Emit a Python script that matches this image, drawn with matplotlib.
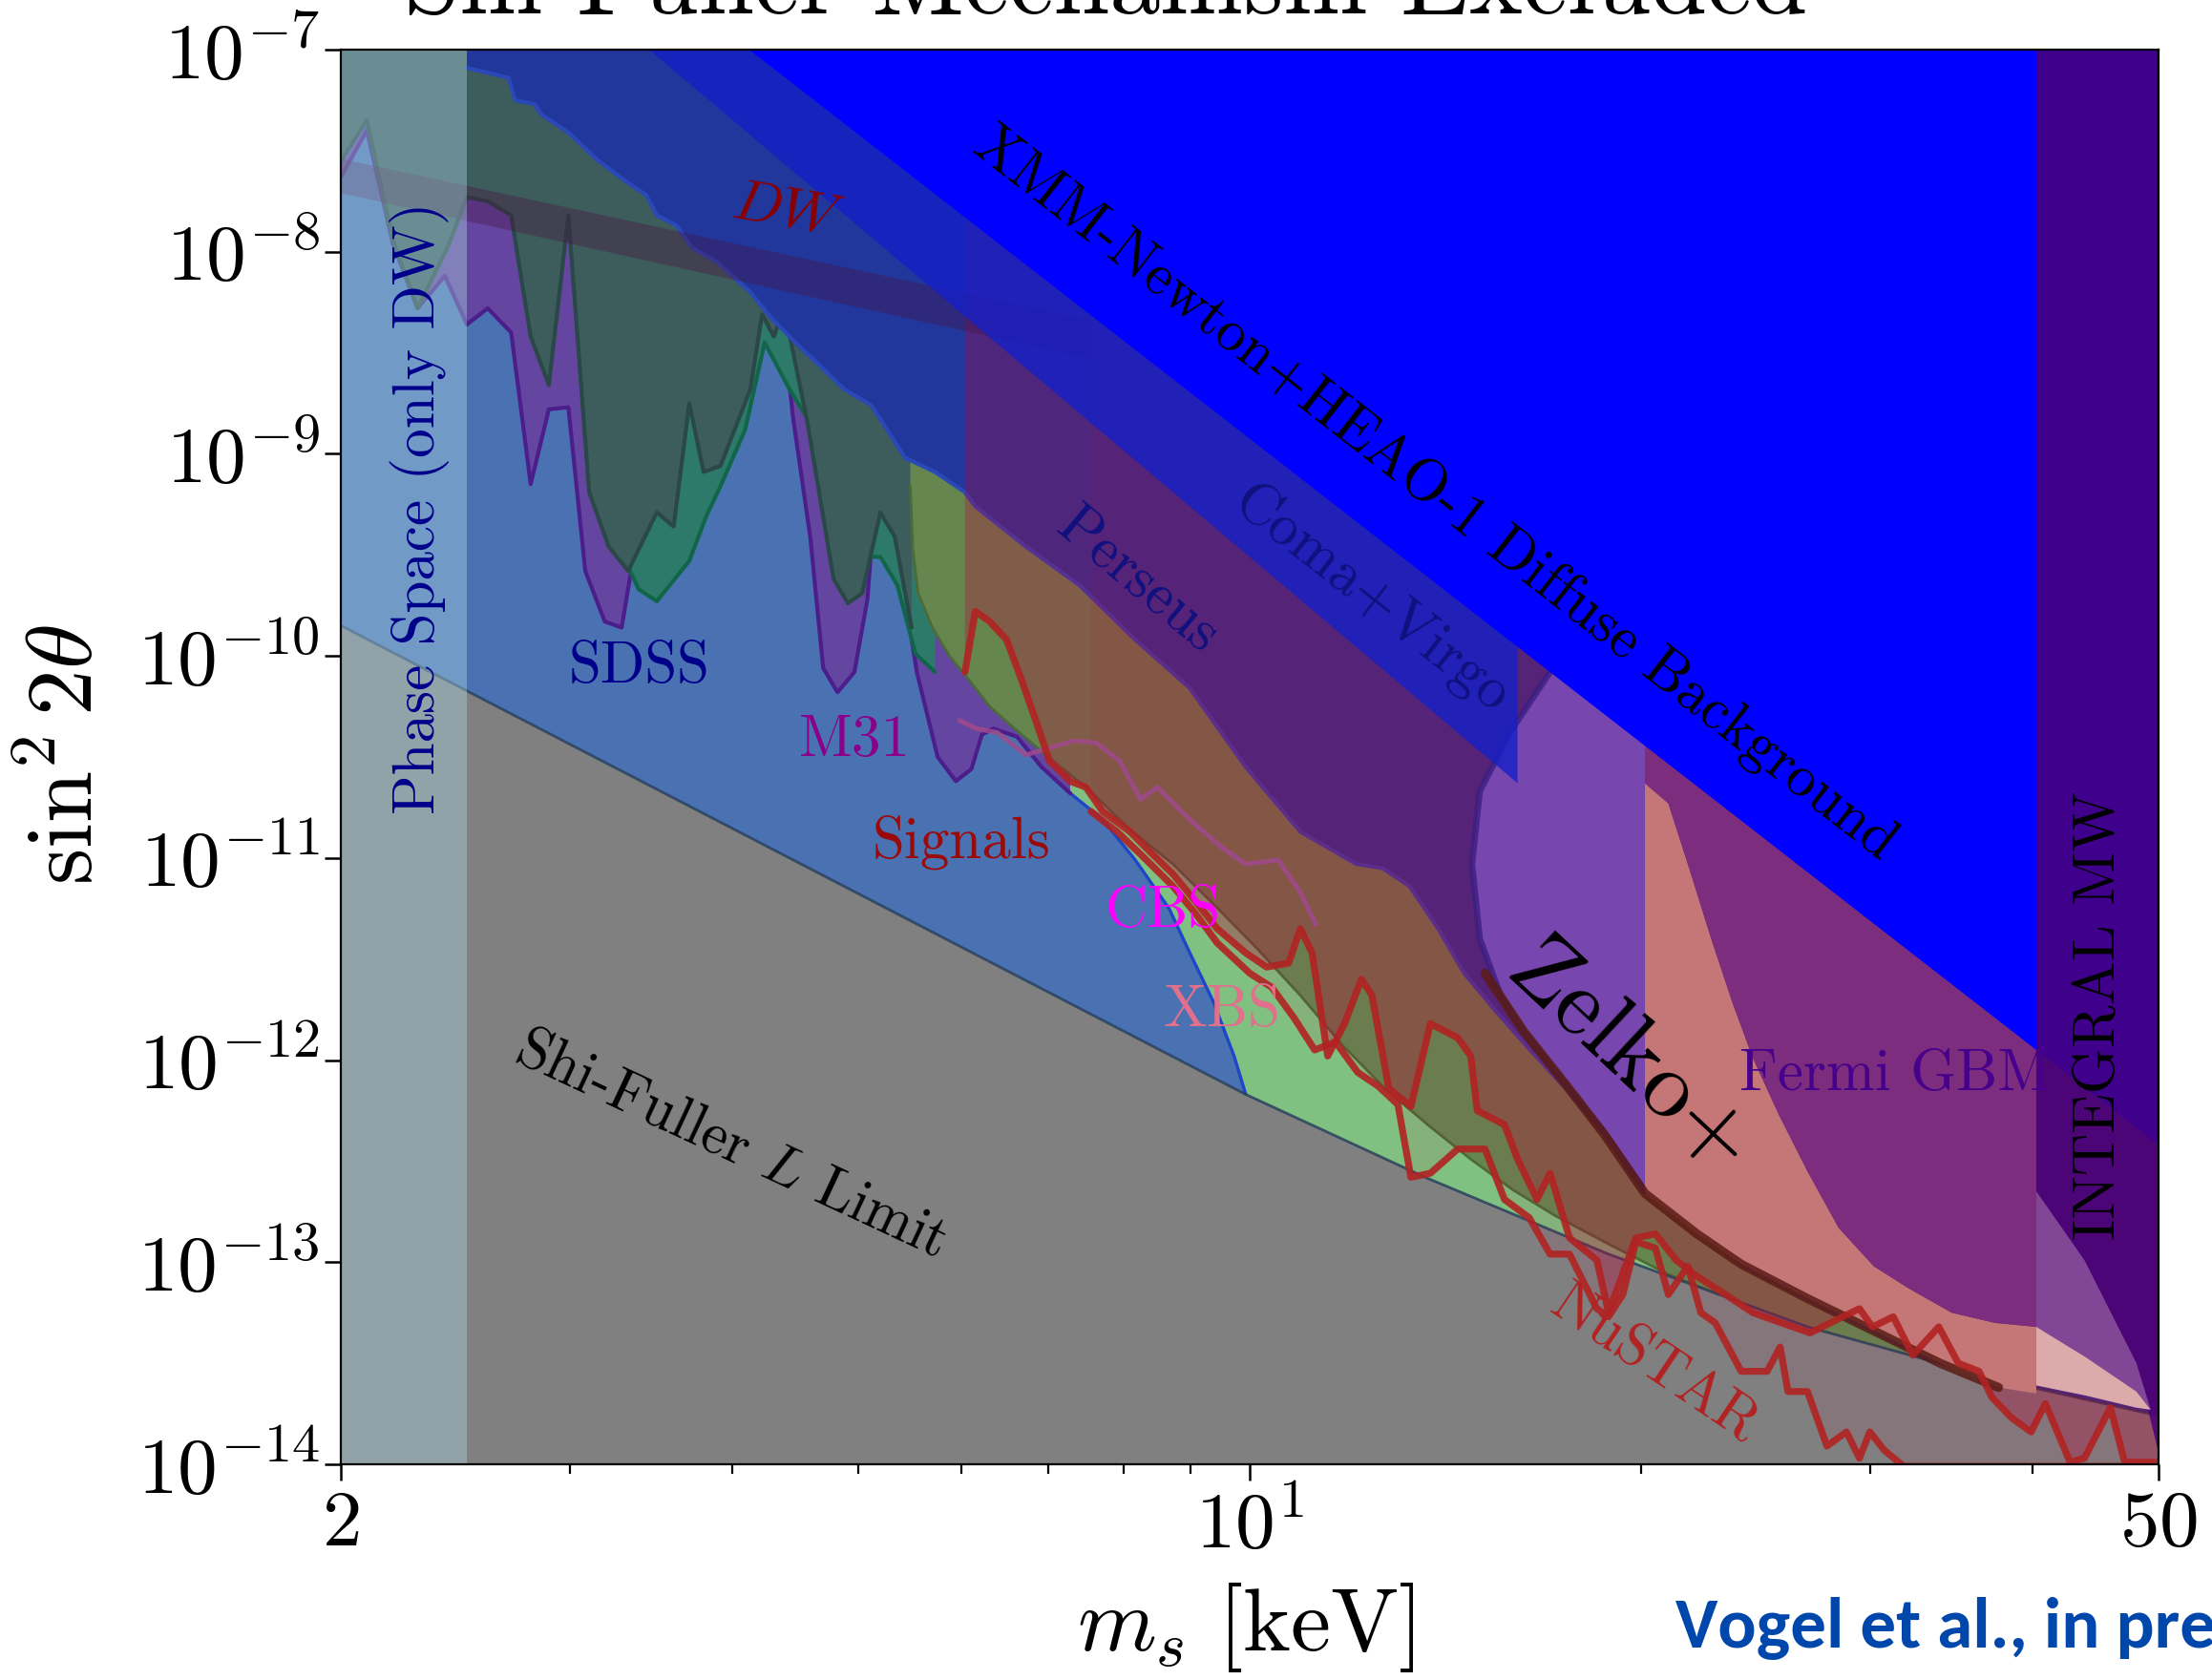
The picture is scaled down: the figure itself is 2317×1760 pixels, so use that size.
import numpy as np
import matplotlib.pyplot as plt
from matplotlib.ticker import FixedLocator, NullLocator, NullFormatter

plt.rcParams['font.family'] = 'serif'
plt.rcParams['font.serif'] = ['cmr10']
plt.rcParams['mathtext.fontset'] = 'cm'
plt.rcParams['axes.formatter.use_mathtext'] = True

# all curves as log10(m_s / keV) and log10(sin^2 2theta)

# Shi-Fuller L limit (grey region lies below it)
sf_lgm = [0.301, 0.997, 1.135, 1.276, 1.429, 1.581, 1.699]
sf_lgs = [-9.85, -12.17, -12.58, -12.96, -13.32, -13.59, -13.76]

# right edge of the blue region (green region to its right)
bc_lgm = [0.997, 0.988, 0.972, 0.954, 0.938, 0.912, 0.887, 0.862, 0.840, 0.820, 0.803, 0.786, 0.776]
bc_lgs = [-12.17, -11.98, -11.71, -11.47, -11.25, -11.01, -10.81, -10.68, -10.55, -10.39, -10.36, -10.38, -10.32]

# M31 curve
m31_lgm = [0.301, 0.321, 0.341, 0.360, 0.381, 0.398, 0.414, 0.432, 0.447, 0.461, 0.476, 0.489, 0.504,
           0.517, 0.525, 0.533, 0.582, 0.625, 0.638, 0.649, 0.662, 0.672, 0.683, 0.696, 0.706, 0.713,
           0.723, 0.735, 0.744, 0.760, 0.774, 0.786, 0.794, 0.803, 0.821, 0.840, 0.862]
m31_lgs = [-7.63, -7.40, -7.96, -8.28, -8.12, -8.36, -8.28, -8.40, -9.15, -8.78, -8.77, -9.58, -9.83,
           -9.86, -9.55, -8.85, -8.43, -8.19, -8.19, -8.83, -9.41, -10.06, -10.18, -10.08, -9.72, -9.13,
           -9.13, -9.71, -10.08, -10.50, -10.62, -10.56, -10.39, -10.36, -10.40, -10.55, -10.68]

# SDSS curve
sdss_lgm = [0.301, 0.321, 0.341, 0.360, 0.383, 0.398, 0.414, 0.432, 0.447, 0.461, 0.476, 0.492, 0.507,
            0.522, 0.530, 0.544, 0.569, 0.582, 0.593, 0.612, 0.627, 0.646, 0.662, 0.680, 0.691, 0.702,
            0.716, 0.729, 0.743, 0.758]
sdss_lgs = [-7.55, -7.35, -7.94, -8.28, -7.98, -7.73, -7.73, -7.80, -8.39, -8.63, -7.80, -9.16, -9.43,
            -9.56, -9.67, -9.73, -9.53, -9.31, -9.16, -8.88, -8.45, -8.68, -8.85, -9.58, -9.55, -9.51,
            -9.51, -9.65, -9.99, -10.08]

# dark upper structure-formation curve
dark_lgm = [0.301, 0.321, 0.341, 0.360, 0.383, 0.398, 0.414, 0.432, 0.447, 0.461, 0.476, 0.492, 0.507,
            0.522, 0.544, 0.557, 0.569, 0.580, 0.593, 0.616, 0.625, 0.634, 0.642, 0.660, 0.680, 0.691,
            0.702, 0.716, 0.727, 0.740]
dark_lgs = [-7.55, -7.35, -7.94, -8.28, -7.98, -7.73, -7.75, -7.82, -8.42, -8.66, -7.82, -9.19, -9.46,
            -9.58, -9.29, -9.36, -8.75, -9.09, -9.06, -8.68, -8.31, -8.42, -8.28, -8.85, -9.62, -9.74,
            -9.69, -9.29, -9.41, -9.86]

# CBS/XBS olive curve
olive_lgm = [0.739, 0.741, 0.745, 0.756, 0.769, 0.783, 0.800, 0.821, 0.849, 0.876, 0.908, 0.941, 0.974,
             1.006, 1.039, 1.072, 1.104, 1.137, 1.170, 1.202, 1.235, 1.279, 1.322, 1.377, 1.431, 1.496,
             1.576, 1.649, 1.699]
olive_lgs = [-9.16, -9.48, -9.69, -9.86, -10.00, -10.11, -10.25, -10.37, -10.52, -10.66, -10.86, -11.03,
             -11.24, -11.45, -11.68, -11.93, -12.14, -12.32, -12.49, -12.64, -12.77, -12.92, -13.06,
             -13.20, -13.34, -13.49, -13.62, -13.71, -13.76]

# Perseus (stepped) curve
perseus_lgm = [0.398, 0.430, 0.435, 0.450, 0.455, 0.476, 0.499, 0.522, 0.536, 0.544, 0.559, 0.571, 0.590,
               0.616, 0.631, 0.649, 0.672, 0.688, 0.709, 0.735, 0.758, 0.781, 0.789, 0.828, 0.869, 0.912,
               0.954, 0.997, 1.039, 1.082, 1.102, 1.123, 1.145, 1.165, 1.187, 1.213, 1.243, 1.279, 1.304,
               1.344, 1.378, 1.429, 1.480, 1.531, 1.576, 1.627, 1.699]
perseus_lgs = [-7.09, -7.14, -7.25, -7.27, -7.32, -7.41, -7.55, -7.66, -7.72, -7.82, -7.87, -7.98, -8.05,
               -8.20, -8.32, -8.44, -8.58, -8.68, -8.76, -9.02, -9.09, -9.19, -9.26, -9.46, -9.65, -9.92,
               -10.16, -10.55, -10.87, -11.03, -11.05, -11.14, -11.35, -11.57, -11.74, -11.93, -12.14,
               -12.41, -12.62, -12.84, -13.01, -13.18, -13.34, -13.51, -13.62, -13.70, -13.76]

coma_lgm = [0.538, 1.206]
coma_lgs = [-7.0, -10.63]
xmm_lgm = [0.615, 1.699]
xmm_lgs = [-7.0, -12.42]

zelko_lgm = [1.231, 1.200, 1.177, 1.171, 1.177, 1.193, 1.211, 1.243, 1.273, 1.304]
zelko_lgs = [-10.08, -10.38, -10.67, -11.03, -11.40, -11.68, -11.86, -12.12, -12.36, -12.65]

fermi_lgm = [1.304, 1.322, 1.338, 1.355, 1.371, 1.387, 1.407, 1.429, 1.453, 1.480, 1.507, 1.540, 1.573, 1.605]
fermi_lgs = [-10.63, -10.73, -11.05, -11.40, -11.71, -11.99, -12.27, -12.55, -12.83, -13.02, -13.13,
             -13.25, -13.30, -13.32]

band_lgm = [1.181, 1.211, 1.243, 1.273, 1.304, 1.344, 1.378, 1.429, 1.480, 1.531, 1.576]
band_lgs = [-11.57, -11.86, -12.12, -12.37, -12.66, -12.86, -13.01, -13.18, -13.34, -13.50, -13.62]

integral_lgm = [1.605, 1.642, 1.682, 1.699]
integral_lgs = [-12.65, -12.99, -13.50, -13.94]
mw_lgm = [1.605, 1.643, 1.682, 1.693]
mw_lgs = [-13.32, -13.47, -13.64, -13.73]
mw_low_lgm = [1.605, 1.643, 1.682]
mw_low_lgs = [-13.61, -13.66, -13.72]

dw_lgm = [0.301, 0.878]
dw_top = [-7.54, -8.34]
dw_bot = [-7.71, -8.53]

nustar1_lgm = [0.781, 0.789, 0.800, 0.813, 0.824, 0.836, 0.846, 0.862, 0.874, 0.887, 0.908, 0.925, 0.941,
               0.959, 0.975, 0.997, 1.013, 1.030, 1.039, 1.048, 1.060, 1.073, 1.086, 1.094, 1.107, 1.124,
               1.139, 1.160, 1.170, 1.175, 1.196, 1.206, 1.221, 1.231, 1.246, 1.267, 1.276, 1.297, 1.312,
               1.328, 1.344, 1.366, 1.387, 1.409, 1.431, 1.453, 1.469, 1.479, 1.495, 1.510, 1.530, 1.545,
               1.561, 1.571, 1.586, 1.601, 1.612, 1.631, 1.642, 1.662, 1.673, 1.699]
nustar1_lgs = [-10.08, -9.78, -9.83, -9.92, -10.11, -10.33, -10.52, -10.62, -10.65, -10.77, -10.87, -10.98,
               -11.08, -11.22, -11.35, -11.47, -11.54, -11.52, -11.35, -11.47, -11.98, -11.82, -11.60,
               -11.68, -12.14, -12.23, -11.82, -11.89, -11.98, -12.25, -12.32, -12.49, -12.69, -12.56,
               -12.88, -12.99, -13.25, -12.88, -12.86, -12.99, -13.07, -13.16, -13.25, -13.30, -13.35,
               -13.28, -13.23, -13.32, -13.27, -13.46, -13.32, -13.50, -13.54, -13.67, -13.77, -13.84,
               -13.70, -13.99, -13.97, -13.72, -13.99, -13.99]

nustar2_lgm = [0.878, 0.898, 0.919, 0.941, 0.959, 0.975, 1.000, 1.017, 1.034, 1.050, 1.066, 1.083, 1.099,
               1.114, 1.124, 1.139, 1.160, 1.181, 1.196, 1.215, 1.231, 1.246, 1.267, 1.276, 1.287, 1.297,
               1.312, 1.322, 1.337, 1.347, 1.358, 1.378, 1.398, 1.408, 1.414, 1.429, 1.444, 1.459, 1.469,
               1.477, 1.488, 1.503, 1.699]
nustar2_lgs = [-10.77, -10.87, -11.00, -11.14, -11.28, -11.42, -11.57, -11.64, -11.79, -11.95, -11.91,
               -12.06, -12.13, -12.22, -12.58, -12.56, -12.44, -12.44, -12.69, -12.78, -12.96, -12.96,
               -13.23, -13.27, -13.16, -12.90, -12.93, -13.16, -13.02, -13.25, -13.30, -13.54, -13.54,
               -13.42, -13.64, -13.64, -13.91, -13.84, -13.97, -13.84, -13.93, -14.01, -14.01]

cbs_line_lgm = [0.777, 0.790, 0.806, 0.828, 0.849, 0.865, 0.882, 0.900, 0.916, 0.929, 0.954, 0.979, 0.997,
                1.022, 1.039, 1.051]
cbs_line_lgs = [-10.32, -10.36, -10.38, -10.49, -10.45, -10.42, -10.43, -10.52, -10.71, -10.65, -10.81,
                -10.95, -11.03, -11.01, -11.17, -11.33]

phase_space_max = 2.5  # keV

TOP = 1.5e-7
BOT = 1e-14


def lg(a):
    return 10.0 ** np.asarray(a, dtype=float)


fig = plt.figure(figsize=(11.585, 8.8), dpi=200)
ax = fig.add_axes([0.1541, 0.1284, 0.8217, 0.8421])
ax.set_xscale('log')
ax.set_yscale('log')


def poly(xs, ys, z, **kw):
    ax.fill(xs, ys, lw=0, zorder=z, **kw)


def above(lgm, lgs, z, **kw):
    m, s = lg(lgm), lg(lgs)
    poly(np.r_[m, m[-1], m[0]], np.r_[s, TOP, TOP], z, **kw)


def edge(lgm, lgs, z, color, lw=1.3, alpha=1.0):
    ax.plot(lg(lgm), lg(lgs), color=color, lw=lw, alpha=alpha, zorder=z,
            solid_joinstyle='round', solid_capstyle='round')


sf_m, sf_s = lg(sf_lgm), lg(sf_lgs)
bc_m, bc_s = lg(bc_lgm), lg(bc_lgs)

# base colours
poly(np.r_[sf_m, 50, 2], np.r_[sf_s, TOP, TOP], 1, color='#4a72b2')
poly(np.r_[bc_m, bc_m[-1], 50, sf_m[:0:-1]], np.r_[bc_s, TOP, TOP, sf_s[:0:-1]], 2, color='#80c080')
edge(bc_lgm, bc_lgs, 2.1, '#1e46c8', 1.2)

# structure formation bounds
above(m31_lgm, m31_lgs, 3, color='#6446a0')
edge(m31_lgm, m31_lgs, 3.1, '#4b1e8c', 1.5)
above(sdss_lgm, sdss_lgs, 4, color='#2d7a6a')
edge(sdss_lgm, sdss_lgs, 4.1, '#11664a', 1.5)
above(dark_lgm, dark_lgs, 5, color='#3d5c5c')
edge(dark_lgm, dark_lgs, 5.1, '#2b4848', 1.5)
above(olive_lgm, olive_lgs, 6, color='#668650')
edge(olive_lgm, olive_lgs, 6.1, '#4d6b36', 1.0)
above(perseus_lgm, perseus_lgs, 7, color='#21379b')
edge(perseus_lgm, perseus_lgs, 7.1, '#2a48b8', 1.5)

# Shi-Fuller limit
poly(np.r_[sf_m, 50, 2], np.r_[sf_s, BOT, BOT], 8, color='#808080')
edge(sf_lgm, sf_lgs, 8.1, '#233c5a', 1.0, alpha=0.8)

# NuSTAR shading
above(nustar1_lgm, nustar1_lgs, 9, color='#b90037', alpha=0.30)
above(nustar2_lgm, nustar2_lgs, 9.1, color='#b90037', alpha=0.07)

# DW band
dm = lg(dw_lgm)
poly(np.r_[dm, dm[::-1]], np.r_[lg(dw_top), lg(dw_bot)[::-1]], 10, color='#4a1040', alpha=0.35)
edge(cbs_line_lgm, cbs_line_lgs, 11, '#a04a8c', 1.8, alpha=0.85)

# Zelko+
above(zelko_lgm, zelko_lgs, 12, color='#7846af')
edge(zelko_lgm, zelko_lgs, 12.1, '#3c1e82', 2.4, alpha=0.8)

# Coma+Virgo
cm_, cs_ = lg(coma_lgm), lg(coma_lgs)
poly([cm_[0], cm_[1], cm_[1], cm_[0]], [cs_[0], cs_[1], TOP, TOP], 13, color='#1420c8', alpha=0.8)

# Fermi GBM + pink region
pm, ps = lg(fermi_lgm), lg(fermi_lgs)
bm, bs = lg(band_lgm), lg(band_lgs)
poly(np.r_[pm, pm[-1], bm[:3:-1]], np.r_[ps, 10 ** -13.65, bs[:3:-1]], 14, color='#c57676')
poly(np.r_[pm[0], pm, pm[-1]], np.r_[TOP, ps, TOP], 15, color='#7d2d7d')
edge(band_lgm, band_lgs, 16, '#5a1c14', 3.4, alpha=0.85)

# XMM-Newton + HEAO-1
xm, xs = lg(xmm_lgm), lg(xmm_lgs)
poly([xm[0], xm[1], xm[1], xm[0]], [xs[0], xs[1], TOP, TOP], 17, color='#0000ff')

# INTEGRAL
above(integral_lgm, integral_lgs, 18, color='#4b0078', alpha=0.85)
im, is_ = lg(integral_lgm), lg(integral_lgs)
wm, ws = lg(mw_lgm), lg(mw_lgs)
lm, ls = lg(mw_low_lgm), lg(mw_low_lgs)
poly(np.r_[im[:3], wm[3], wm[2::-1]], np.r_[is_[:3], ws[3], ws[2::-1]], 18.1, color='#824696')
poly(np.r_[wm, lm[::-1]], np.r_[ws, ls[::-1]], 18.2, color='#dcaaaa')

# NuSTAR lines
edge(nustar1_lgm, nustar1_lgs, 19, '#b22222', 2.6, alpha=0.9)
edge(nustar2_lgm, nustar2_lgs, 19.1, '#b22222', 2.6, alpha=0.9)

# phase space band
ax.axvspan(2, phase_space_max, color='#add8e6', alpha=0.4, lw=0, zorder=20)

ax.set_xlim(2, 50)
ax.set_ylim(1e-14, 1e-7)

ax.xaxis.set_major_locator(FixedLocator([2, 10, 50]))
ax.set_xticklabels(['$2$', '$10^1$', '$50$'])
ax.xaxis.set_minor_locator(FixedLocator([3, 4, 5, 6, 7, 8, 9, 20, 30, 40]))
ax.xaxis.set_minor_formatter(NullFormatter())
ax.yaxis.set_minor_locator(NullLocator())
ax.tick_params(which='major', direction='out', length=6, width=0.9, labelsize=30)
ax.tick_params(which='minor', direction='out', length=3.5, width=0.8)
ax.tick_params(axis='x', pad=4)
ax.tick_params(axis='y', pad=2)
for sp in ax.spines.values():
    sp.set_zorder(50)
    sp.set_linewidth(0.8)

# labels on the plot
tk = dict(ha='center', va='center', rotation_mode='anchor', zorder=60, fontsize=22)
ax.text(2.30, 5.4e-10, 'Phase Space (only DW)', rotation=90, color='#00008b', **tk)
ax.text(3.39, 8.8e-11, 'SDSS', color='#00008b', **tk)
ax.text(4.97, 3.8e-11, 'M31', color='#8b008b', **tk)
ax.text(6.0, 1.2e-11, 'Signals', color='#9b0a0a', **tk)
ax.text(8.58, 5.4e-12, 'CBS', color='#ff00ff', **tk)
ax.text(9.53, 1.74e-12, 'XBS', color='#e0708c', **tk)
ax.text(4.41, 1.57e-8, '$DW$', rotation=-10, color='#8b0000', **tk)
ax.text(13.88, 6.34e-10, 'XMM-Newton+HEAO-1 Diffuse Background', rotation=-38, color='black', **tk)
ax.text(8.2, 2.34e-10, 'Perseus', rotation=-40, color='#10107f', **tk)
ax.text(12.41, 1.9e-10, 'Coma+Virgo', rotation=-38, color='#10107f', **tk)
ax.text(31.35, 8.45e-13, 'Fermi GBM', color='#46008c', **tk)
ax.text(45.1, 1.66e-12, 'INTEGRAL MW', rotation=90, color='black', **tk)
ax.text(3.99, 3.79e-13, 'Shi-Fuller $L$ Limit', rotation=-25, color='black', **tk)
ax.text(20.47, 3.13e-14, 'NuSTAR', rotation=-34, color='#b22222', **tk)
tk['fontsize'] = 36
ax.text(19.58, 9.9e-13, 'Zelko+', rotation=-43, color='black', **tk)

fig.text(0.0306, 0.551, r'$\sin^2 2\theta$', rotation=90, fontsize=35, ha='center', va='center')
fig.text(0.563, 0.031, r'$m_s\ [\mathrm{keV}]$', fontsize=34, ha='center', va='center')
fig.text(0.5, 0.992, 'Shi-Fuller Mechanism Excluded', fontsize=38, ha='center', va='baseline')
fig.text(0.7575, 0.0193, 'Vogel et al., in prep.', family=['Carlito', 'Liberation Sans Narrow', 'Lato'],
         fontweight='bold', fontsize=27, color='#0047ab', ha='left', va='baseline')

fig.savefig('out.png', dpi=200)
